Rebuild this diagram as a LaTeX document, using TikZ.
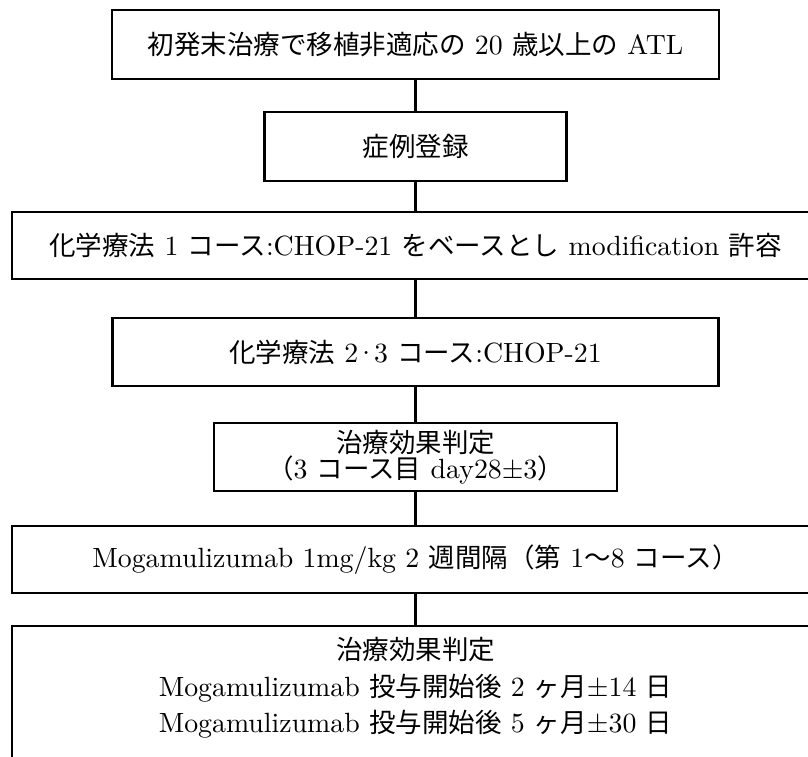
\documentclass[tikz,border=0pt]{standalone}
\usepackage{fontspec}
\setmainfont{lmroman10-regular.otf}[Scale=1.05]
\newfontfamily\jp{Noto Sans CJK JP}
\begin{document}
\begin{tikzpicture}[x=1pt,y=-1pt,
  box/.style={draw, line width=2.2pt, inner sep=0pt, align=center,
    font=\fontsize{26.5}{26}\selectfont},
  plain/.style={inner sep=0pt, align=center,
    font=\fontsize{26.5}{36.5}\selectfont},
  conn/.style={line width=2.2pt}]
\useasboundingbox (0,0) rectangle (808,756);
\clip (0,0) rectangle (808,756);
\node[box, minimum width=607pt, minimum height=69pt] (b1) at (415.5,44.5)
  {{\jp 初発末治療で移植非適応の} 20 {\jp 歳以上の} ATL};
\node[box, minimum width=302pt, minimum height=69pt] (b2) at (415.5,146.5)
  {{\jp 症例登録}};
\node[box, minimum width=807pt, minimum height=67pt] (b3) at (415.5,245.5)
  {{\jp 化学療法} 1 {\jp コース}:CHOP-21 {\jp をベースとし} modification {\jp 許容}};
\node[box, minimum width=606pt, minimum height=68pt] (b4) at (415.5,352)
  {{\jp 化学療法} 2\kern-3pt·\kern-3pt3 {\jp コース}:CHOP-21};
\node[box, minimum width=403pt, minimum height=68pt] (b5) at (415.5,457)
  {{\jp 治療効果判定}\\{\jp （}3 {\jp コース目} day28±3{\jp ）}};
\node[box, minimum width=807pt, minimum height=67pt] (b6) at (415.5,559.5)
  {Mogamulizumab 1mg/kg 2 {\jp 週間隔（第} 1{\jp 〜}8 {\jp コース）}};
\node[plain] (b7) at (415.5,688)
  {{\jp 治療効果判定}\\
   Mogamulizumab {\jp 投与開始後} 2 {\jp ヶ月}±14 {\jp 日}\\
   Mogamulizumab {\jp 投与開始後} 5 {\jp ヶ月}±30 {\jp 日}};
\coordinate (b7top) at (415.5,626);
\coordinate (b7l) at (12,626);
\coordinate (b7r) at (819,626);
\draw[conn] (12,780) -- (b7l) -- (b7r) -- (819,780);
\draw[conn] (b1.south) -- (b2.north);
\draw[conn] (b2.south) -- (b3.north);
\draw[conn] (b3.south) -- (b4.north);
\draw[conn] (b4.south) -- (b5.north);
\draw[conn] (b5.south) -- (b6.north);
\draw[conn] (b6.south) -- (b7top);
\end{tikzpicture}
\end{document}
